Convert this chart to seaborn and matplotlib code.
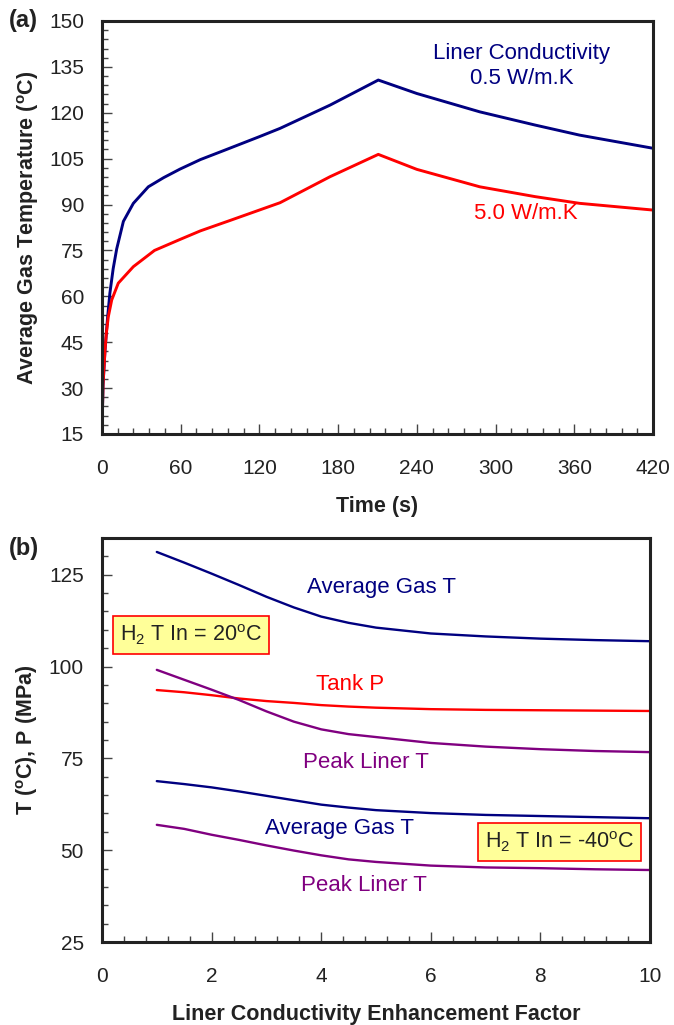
import numpy as np
import pandas as pd
import matplotlib
matplotlib.use("Agg")
import matplotlib.pyplot as plt
from matplotlib.ticker import MultipleLocator
import seaborn as sns

# panel (a): gas temperature vs time, two liner conductivities
time_05 = [0, 0.2, 0.8, 2.3, 4.3, 6, 8.5, 11.2, 16.3, 23.9, 35.3, 47, 59.5, 75, 92.5, 120, 135.7,
           173.8, 210.6, 240, 288, 330, 364, 420]
temp_05 = [18, 20, 31, 42.4, 53.3, 61, 69, 75.5, 84.5, 90.4, 95.8, 98.8, 101.6, 104.7, 107.6, 112.2, 114.9,
           122.5, 130.7, 126.3, 120.3, 116.0, 112.7, 108.4]
time_50 = [0, 0.2, 0.8, 2.3, 3.3, 4.8, 7.4, 12.4, 23.9, 40, 59.5, 75, 97.6, 135.7, 173.8, 210.6,
           240, 288, 330, 364, 420]
temp_50 = [18, 20, 31.5, 42.4, 47.9, 53.3, 58.8, 64.3, 69.7, 75, 78.6, 81.4, 84.8, 90.6, 99.1, 106.4,
           101.5, 95.8, 92.6, 90.4, 88.2]

# panel (b): values vs liner conductivity enhancement factor
factor = [1, 1.5, 2, 2.5, 3, 3.5, 4, 4.5, 5, 6, 7, 8, 9, 10]
gas_t_20 = [131.2, 128.3, 125.3, 122.2, 119.0, 116.1, 113.6, 111.9, 110.6, 109.0, 108.2, 107.6, 107.2, 106.9]
tank_p_20 = [93.6, 93.0, 92.2, 91.3, 90.6, 90.1, 89.5, 89.1, 88.8, 88.4, 88.2, 88.1, 88.0, 87.9]
liner_t_20 = [99.1, 96.4, 93.7, 90.9, 87.8, 85.0, 82.9, 81.6, 80.8, 79.2, 78.2, 77.5, 77.0, 76.7]
gas_t_m40 = [68.8, 68.0, 67.1, 66.0, 64.8, 63.6, 62.4, 61.6, 60.9, 60.1, 59.6, 59.3, 59.0, 58.7]
liner_t_m40 = [56.9, 55.8, 54.2, 52.8, 51.3, 49.9, 48.6, 47.5, 46.8, 45.8, 45.3, 45.1, 44.8, 44.6]

NAVY = "#000080"
RED = "#ff0000"
PURPLE = "#800080"
INK = "#222222"

sns.set_style("ticks")
plt.rcParams["font.family"] = ["Liberation Sans", "DejaVu Sans"]
plt.rcParams["mathtext.fontset"] = "custom"
plt.rcParams["mathtext.rm"] = "Liberation Sans"
plt.rcParams["mathtext.bf"] = "Liberation Sans:bold"

fig = plt.figure(figsize=(6.74, 10.25), dpi=100)
ax1 = fig.add_axes([102/674, 1-434/1025, 551/674, 413/1025])
ax2 = fig.add_axes([102/674, 1-942/1025, 548/674, 404/1025])

df05 = pd.DataFrame({"t": time_05, "T": temp_05})
df50 = pd.DataFrame({"t": time_50, "T": temp_50})
sns.lineplot(data=df05, x="t", y="T", ax=ax1, color=NAVY, lw=2.1)
sns.lineplot(data=df50, x="t", y="T", ax=ax1, color=RED, lw=2.1)

df_b = pd.DataFrame({"f": factor, "g20": gas_t_20, "p20": tank_p_20, "l20": liner_t_20,
                     "g40": gas_t_m40, "l40": liner_t_m40})
for col, c in [("g20", NAVY), ("p20", RED), ("l20", PURPLE), ("g40", NAVY), ("l40", PURPLE)]:
    sns.lineplot(data=df_b, x="f", y=col, ax=ax2, color=c, lw=1.7)

def style_axes(ax, xlim, ylim, xmaj, xmin, ymaj, ymin):
    ax.set_xlim(*xlim)
    ax.set_ylim(*ylim)
    ax.xaxis.set_major_locator(MultipleLocator(xmaj))
    ax.xaxis.set_minor_locator(MultipleLocator(xmin))
    ax.yaxis.set_major_locator(MultipleLocator(ymaj))
    ax.yaxis.set_minor_locator(MultipleLocator(ymin))
    ax.tick_params(which="both", direction="in", colors="#444444", labelcolor=INK,
                   labelsize=15, width=1.0)
    ax.tick_params(which="major", length=7)
    ax.tick_params(which="minor", length=4.5)
    ax.tick_params(axis="x", which="major", pad=18)
    ax.tick_params(axis="y", which="major", pad=13)
    for s in ax.spines.values():
        s.set_visible(True)
        s.set_linewidth(2.2)
        s.set_color(INK)

style_axes(ax1, (0, 420), (15, 150), 60, 12, 15, 3)
style_axes(ax2, (0, 10), (25, 135), 2, 0.4, 25, 5)

lab = dict(fontsize=15.5, fontweight="bold", color=INK)
ax1.set_xlabel("Time (s)", labelpad=13, **lab)
ax1.set_ylabel(r"Average Gas Temperature ($^\mathbf{o}$C)", labelpad=6, **lab)
ax2.set_xlabel("Liner Conductivity Enhancement Factor", labelpad=13, **lab)
ax2.set_ylabel(r"T ($^\mathbf{o}$C), P (MPa)", labelpad=6, **lab)

fig.text(9/674, 1-20/1025, "(a)", fontsize=17, fontweight="bold", color=INK, va="center")
fig.text(9/674, 1-548/1025, "(b)", fontsize=17, fontweight="bold", color=INK, va="center")

ann = dict(fontsize=16, ha="center", va="center")
ax1.text(320, 135.3, "Liner Conductivity\n0.5 W/m.K", color=NAVY, linespacing=1.3, **ann)
ax1.text(323, 87.2, "5.0 W/m.K", color=RED, **ann)

ax2.text(5.1, 121.6, "Average Gas T", color=NAVY, **ann)
ax2.text(4.53, 95.2, "Tank P", color=RED, **ann)
ax2.text(4.82, 74.0, "Peak Liner T", color=PURPLE, **ann)
ax2.text(4.34, 55.8, "Average Gas T", color=NAVY, **ann)
ax2.text(4.78, 40.5, "Peak Liner T", color=PURPLE, **ann)

box = dict(boxstyle="square,pad=0.33", fc="#ffff99", ec=RED, lw=1.2)
ax2.text(1.62, 108.6, r"H$_2$ T In = 20$^\mathregular{o}$C", color=INK, fontsize=15.5,
         ha="center", va="center", bbox=box)
ax2.text(8.35, 52.2, r"H$_2$ T In = -40$^\mathregular{o}$C", color=INK, fontsize=15.5,
         ha="center", va="center", bbox=box)

fig.savefig("out.png", dpi=100)
